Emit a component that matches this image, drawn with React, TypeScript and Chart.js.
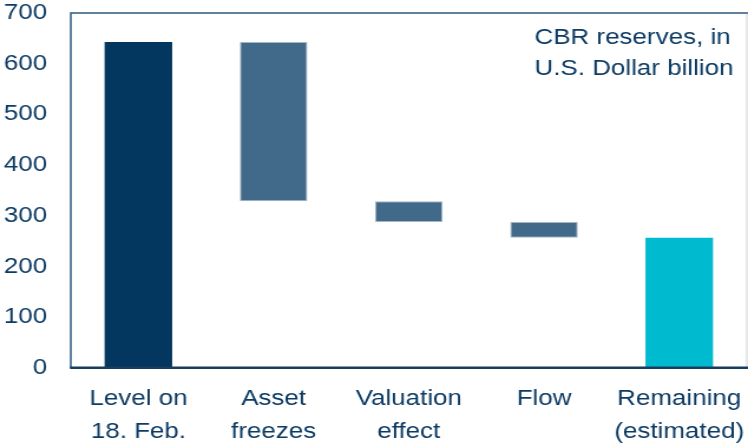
import React, { useEffect, useRef } from "react";
import { Chart, registerables } from "chart.js";

Chart.register(...registerables);

// ---- data ----
const categories: string[][] = [
  ["Level on", "18. Feb."],
  ["Asset", "freezes"],
  ["Valuation", "effect"],
  ["Flow"],
  ["Remaining", "(estimated)"],
];
const barStart = [0, 329, 288, 257, 0];
const barEnd = [643, 643, 329, 288, 257];
const yTickValues = [0, 100, 200, 300, 400, 500, 600, 700];
const noteLines = ["CBR reserves, in", "U.S. Dollar billion"];

// ---- styling ----
const barColors = ["#03375F", "#416A8A", "#416A8A", "#416A8A", "#00BACF"];
const barBorderColors = ["#03375F", "#A3B6C8", "#A3B6C8", "#A3B6C8", "#00BACF"];
const barBorderWidths = [0, 1, 1, 1, 0];
const textColor = "#0D3B63";
const FONT = "'Liberation Sans', Arial, sans-serif";
const STRETCH = 1.18;
const W = 748;
const H = 444;
const IW = Math.round(W / STRETCH);

const framePlugin = {
  id: "frame",
  afterDatasetsDraw(chart: any) {
    const { ctx, chartArea } = chart;
    const { left, top, right, bottom } = chartArea;
    ctx.save();
    ctx.lineCap = "butt";
    // top + left
    ctx.strokeStyle = "#2E5A80";
    ctx.lineWidth = 1.5;
    ctx.beginPath();
    ctx.moveTo(left, bottom);
    ctx.lineTo(left, top);
    ctx.lineTo(chart.width, top);
    ctx.stroke();
    // right (light)
    ctx.strokeStyle = "#D3D8DD";
    ctx.lineWidth = 1.2;
    ctx.beginPath();
    ctx.moveTo(right, top + 1);
    ctx.lineTo(right, bottom);
    ctx.stroke();
    // bottom axis
    ctx.strokeStyle = "#173D5F";
    ctx.lineWidth = 2.5;
    ctx.beginPath();
    ctx.moveTo(left - 0.7, bottom - 0.2);
    ctx.lineTo(chart.width, bottom - 0.2);
    ctx.stroke();
    // note
    ctx.fillStyle = textColor;
    ctx.font = `22px ${FONT}`;
    ctx.textAlign = "left";
    ctx.textBaseline = "alphabetic";
    ctx.fillText(noteLines[0], 453, 44);
    ctx.fillText(noteLines[1], 453, 75);
    ctx.restore();
  },
};

export default function App() {
  const ref = useRef<HTMLCanvasElement | null>(null);

  useEffect(() => {
    document.body.style.margin = "0";
    const canvas = ref.current!;
    const chart = new Chart(canvas, {
      type: "bar",
      data: {
        labels: categories,
        datasets: [
          {
            data: barStart.map((s, i) => [s, barEnd[i]]) as any,
            backgroundColor: barColors,
            borderColor: barBorderColors,
            borderWidth: barBorderWidths,
            borderSkipped: false,
            barPercentage: 0.5,
            categoryPercentage: 1,
          },
        ],
      },
      options: {
        animation: false,
        responsive: false,
        devicePixelRatio: 1,
        layout: { padding: { top: 13, right: 1, left: 0, bottom: 0 } },
        plugins: {
          legend: { display: false },
          tooltip: { enabled: false },
        },
        scales: {
          x: {
            grid: { display: false, drawTicks: false },
            border: { display: false },
            ticks: {
              color: textColor,
              font: { family: FONT, size: 22, lineHeight: 1.5 },
              padding: 14,
              maxRotation: 0,
              autoSkip: false,
            },
            afterFit(scale: any) {
              scale.height = 76;
              scale.paddingLeft = 0;
              scale.paddingRight = 0;
            },
          },
          y: {
            min: 0,
            max: 700,
            grid: { display: false, drawTicks: false },
            border: { display: false },
            afterBuildTicks(scale: any) {
              scale.ticks = yTickValues.map((v) => ({ value: v }));
            },
            ticks: {
              color: textColor,
              font: { family: FONT, size: 22 },
              padding: 20,
            },
            afterFit(scale: any) {
              scale.width = 60;
              scale.paddingTop = 0;
              scale.paddingBottom = 0;
            },
          },
        },
      },
      plugins: [framePlugin],
    });
    return () => chart.destroy();
  }, []);

  return (
    <div style={{ position: "absolute", left: 0, top: 0, width: W, height: H }}>
      <canvas
        ref={ref}
        width={IW}
        height={H}
        style={{ width: `${W}px`, height: `${H}px`, display: "block" }}
      />
    </div>
  );
}
